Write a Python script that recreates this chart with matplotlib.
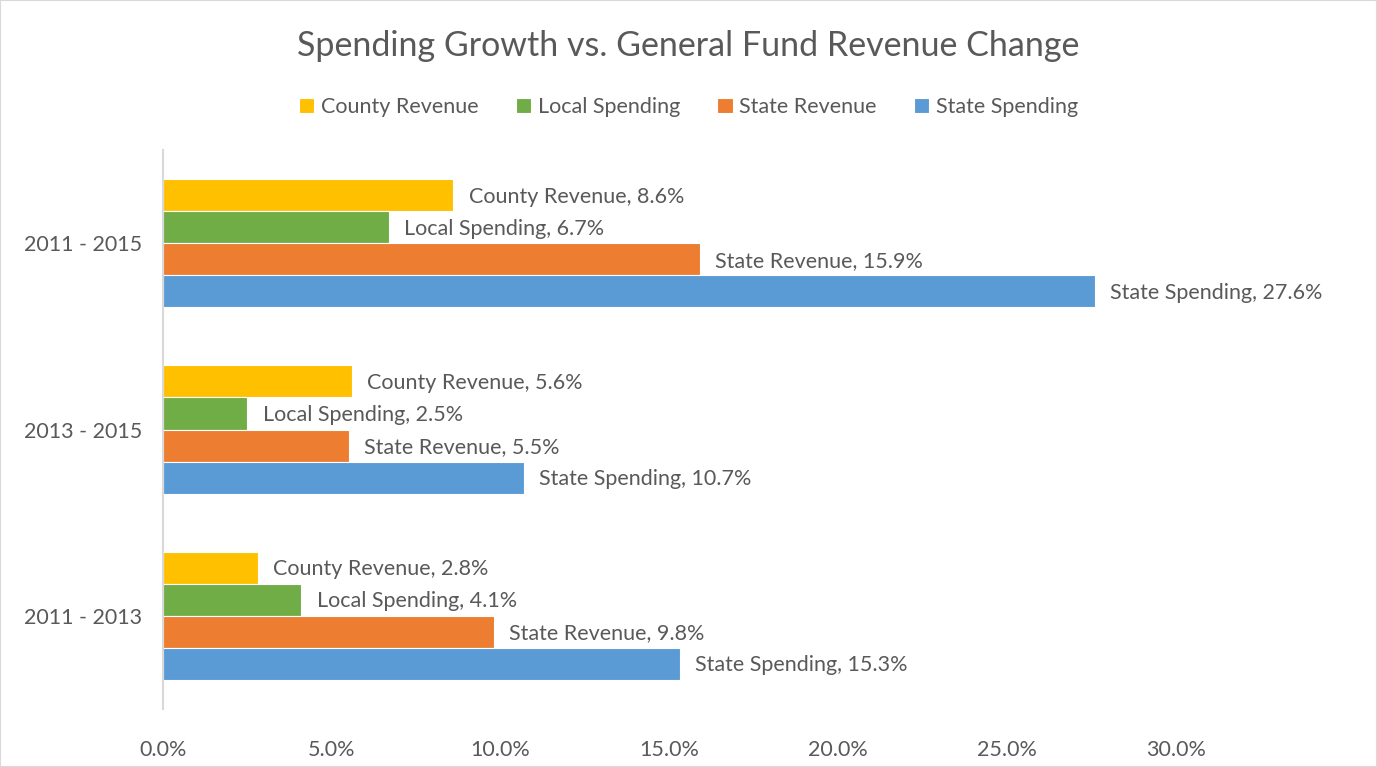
import numpy as np
import matplotlib.pyplot as plt
from matplotlib.patches import Rectangle

plt.rcParams['font.family'] = ['Lato', 'DejaVu Sans']

periods = ['2011 - 2013', '2013 - 2015', '2011 - 2015']
series = ['County Revenue', 'Local Spending', 'State Revenue', 'State Spending']
county_revenue = [2.8, 5.6, 8.6]
local_spending = [4.1, 2.5, 6.7]
state_revenue = [9.8, 5.5, 15.9]
state_spending = [15.3, 10.7, 27.6]
colors = ['#FFC000', '#70AD47', '#ED7D31', '#5B9BD5']
text_color = '#595959'

fig = plt.figure(figsize=(13.77, 7.67), dpi=100)
ax = fig.add_axes([163 / 1377, 1 - 709 / 767, (1176 - 163) / 1377, (709 - 150) / 767])

y = np.arange(len(periods))
h = 0.172
values = [county_revenue, local_spending, state_revenue, state_spending]
offsets = [1.5 * h, 0.5 * h, -0.5 * h, -1.5 * h]
for name, vals, off, c in zip(series, values, offsets, colors):
    bars = ax.barh(y + off, vals, height=h, color=c, edgecolor='white', linewidth=0.8, label=name)
    for b, v in zip(bars, vals):
        ax.text(v + 0.45, b.get_y() + h / 2 - 0.008, f'{name}, {v:.1f}%', va='center', ha='left',
                fontsize=15.5, color=text_color, clip_on=False)

ax.set_xlim(0, 30)
ax.set_ylim(-0.5, 2.5)
ax.set_xticks(np.arange(0, 31, 5))
ax.set_xticklabels([f'{t:.1f}%' for t in np.arange(0, 31, 5)])
ax.set_yticks(y)
ax.set_yticklabels(periods)
ax.tick_params(axis='both', length=0, labelsize=15.5, labelcolor=text_color)
ax.tick_params(axis='x', pad=22)
ax.tick_params(axis='y', pad=15)
for s in ['top', 'right', 'bottom']:
    ax.spines[s].set_visible(False)
ax.spines['left'].set_color('#D9D9D9')
ax.spines['left'].set_linewidth(1.5)

fig.text(0.5, 1 - 46 / 767, 'Spending Growth vs. General Fund Revenue Change', ha='center', va='center',
         fontsize=24.5, color=text_color)

handles, labels = ax.get_legend_handles_labels()
fig.legend(handles, labels, loc='center', bbox_to_anchor=(0.5, 1 - 107 / 767), ncol=4, frameon=False,
           fontsize=15.5, labelcolor=text_color, handlelength=0.7, handleheight=0.7, handletextpad=0.3,
           columnspacing=1.75)

fig.patches.append(Rectangle((0, 0), 1, 1, transform=fig.transFigure, fill=False,
                             edgecolor='#D9D9D9', linewidth=1.5))

fig.savefig('out.png', dpi=100)
